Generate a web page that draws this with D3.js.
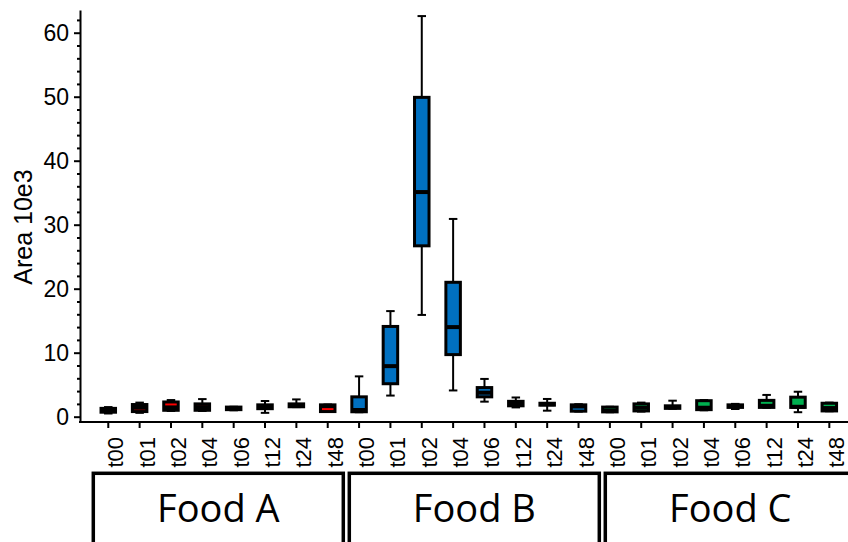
<!DOCTYPE html>
<html>
<head>
<meta charset="utf-8">
<script src="https://cdn.jsdelivr.net/npm/d3@7"></script>
<style>
  html, body { margin: 0; padding: 0; background: #fff; }
  svg { display: block; }
</style>
</head>
<body>
<svg id="chart" width="848" height="542"></svg>
<script>
// ---- data ----
const groups = ["Food A", "Food B", "Food C"];
const timepoints = ["t00", "t01", "t02", "t04", "t06", "t12", "t24", "t48"];
const groupColors = ["#ff0000", "#0070c0", "#00b050"];
const yTicks = [0, 10, 20, 30, 40, 50, 60];
const yLabel = "Area 10e3";
// each box: [whiskerLow, q1, median, q3, whiskerHigh]
const foodA = [
  [0.5, 0.7, 1.0, 1.3, 1.5],
  [0.6, 0.8, 1.4, 1.9, 2.2],
  [0.9, 1.0, 1.45, 2.3, 2.6],
  [0.9, 1.0, 1.5, 2.0, 2.75],
  [1.0, 1.1, 1.3, 1.5, 1.55],
  [0.6, 1.25, 1.5, 1.85, 2.45],
  [1.5, 1.55, 1.75, 2.0, 2.7],
  [0.75, 0.8, 1.65, 1.85, 1.9]
];
const foodB = [
  [0.7, 0.77, 1.05, 3.1, 6.3],
  [3.3, 5.15, 7.9, 14.1, 16.5],
  [15.9, 26.7, 35.1, 49.9, 62.6],
  [4.1, 9.7, 14.0, 21.0, 30.9],
  [2.35, 3.1, 3.75, 4.55, 5.9],
  [1.45, 1.7, 2.05, 2.4, 3.0],
  [0.94, 1.8, 1.95, 2.1, 2.77],
  [0.8, 0.86, 1.6, 1.85, 1.95]
];
const foodC = [
  [0.7, 0.75, 0.95, 1.5, 1.55],
  [0.8, 0.9, 1.4, 2.0, 2.2],
  [1.25, 1.3, 1.5, 1.7, 2.5],
  [1.0, 1.1, 1.4, 2.5, 2.6],
  [1.2, 1.45, 1.65, 1.85, 2.0],
  [1.4, 1.45, 1.7, 2.55, 3.4],
  [0.7, 1.45, 1.55, 3.05, 3.9],
  [0.85, 0.9, 1.35, 2.1, 2.2]
];
const seriesData = [foodA, foodB, foodC];

// ---- build rows ----
const rows = [];
groups.forEach((g, gi) => {
  timepoints.forEach((t, ti) => {
    const v = seriesData[gi][ti];
    rows.push({ key: g + "|" + t, group: g, gi: gi, t: t,
      wl: v[0], q1: v[1], med: v[2], q3: v[3], wh: v[4] });
  });
});

const svg = d3.select("#chart");
const W = 848, H = 542;
const axisX = 80, axisY = 422, topY = 10;
const sans = "'Liberation Sans', Arial, sans-serif";

const x = d3.scaleBand()
  .domain(rows.map(d => d.key))
  .range([92.6, 92.6 + 24 * 31.35])
  .padding(0);

const y = d3.scaleLinear()
  .domain([-0.83, 63.55])
  .range([axisY, topY]);

const boxW = 14.5, capW = 8.5;

// ---- boxes ----
const gBoxes = svg.append("g");
const bx = gBoxes.selectAll("g.box").data(rows).enter().append("g")
  .attr("class", "box")
  .attr("transform", d => `translate(${x(d.key) + x.bandwidth() / 2},0)`);

bx.append("line")
  .attr("x1", 0).attr("x2", 0)
  .attr("y1", d => y(d.wh)).attr("y2", d => y(d.wl))
  .attr("stroke", "#000").attr("stroke-width", 2);
bx.append("line")
  .attr("x1", -capW / 2).attr("x2", capW / 2)
  .attr("y1", d => y(d.wh)).attr("y2", d => y(d.wh))
  .attr("stroke", "#000").attr("stroke-width", 2);
bx.append("line")
  .attr("x1", -capW / 2).attr("x2", capW / 2)
  .attr("y1", d => y(d.wl)).attr("y2", d => y(d.wl))
  .attr("stroke", "#000").attr("stroke-width", 2);
bx.append("rect")
  .attr("x", -boxW / 2).attr("width", boxW)
  .attr("y", d => y(d.q3))
  .attr("height", d => y(d.q1) - y(d.q3))
  .attr("fill", d => groupColors[d.gi])
  .attr("stroke", "#000").attr("stroke-width", 3);
bx.append("line")
  .attr("x1", -boxW / 2).attr("x2", boxW / 2)
  .attr("y1", d => y(d.med)).attr("y2", d => y(d.med))
  .attr("stroke", "#000").attr("stroke-width", 4);

// ---- y axis ----
const yAxis = svg.append("g")
  .attr("transform", `translate(${axisX},0)`)
  .call(d3.axisLeft(y).tickValues(yTicks).tickSize(6).tickSizeOuter(0).tickPadding(5));
yAxis.select(".domain").attr("stroke", "#000").attr("stroke-width", 2);
yAxis.selectAll(".tick line").attr("stroke-width", 2);
yAxis.selectAll(".tick text")
  .style("font-family", sans)
  .style("font-size", "23px").attr("fill", "#000");

const minorVals = d3.range(0, 64, 2).filter(v => v % 10 !== 0);
const yMinor = svg.append("g")
  .attr("transform", `translate(${axisX},0)`)
  .call(d3.axisLeft(y).tickValues(minorVals).tickSize(3).tickFormat(""));
yMinor.select(".domain").remove();
yMinor.selectAll(".tick line").attr("stroke-width", 2);

// y label
svg.append("text")
  .attr("transform", `translate(32,227) rotate(-90)`)
  .attr("text-anchor", "middle")
  .style("font-family", sans)
  .style("font-size", "25px")
  .attr("fill", "#000")
  .text(yLabel);

// ---- x axis ----
const xAxis = svg.append("g")
  .attr("transform", `translate(0,${axisY})`)
  .call(d3.axisBottom(x).tickSize(6).tickSizeOuter(0).tickFormat(k => k.split("|")[1]));
xAxis.select(".domain").remove();
xAxis.selectAll(".tick line").attr("stroke-width", 2);
xAxis.selectAll(".tick text")
  .style("font-family", sans)
  .style("font-size", "22px")
  .attr("fill", "#000")
  .attr("text-anchor", "end")
  .attr("transform", "rotate(-90)")
  .attr("x", -15)
  .attr("y", 15)
  .attr("dy", 0);
svg.append("line")
  .attr("x1", axisX - 1).attr("x2", W)
  .attr("y1", axisY).attr("y2", axisY)
  .attr("stroke", "#000").attr("stroke-width", 2);

// ---- group boxes ----
const gx = d3.scaleBand().domain(groups).range([93.3, 855.3]).paddingInner(6 / 256).paddingOuter(0);
const gg = svg.append("g");
gg.selectAll("rect").data(groups).enter().append("rect")
  .attr("x", d => gx(d)).attr("width", gx.bandwidth())
  .attr("y", 473.3).attr("height", 120)
  .attr("fill", "#fff").attr("stroke", "#000").attr("stroke-width", 3.5);
gg.selectAll("text").data(groups).enter().append("text")
  .attr("x", d => gx(d) + gx.bandwidth() / 2)
  .attr("y", 522)
  .attr("text-anchor", "middle")
  .style("font-family", "'Open Sans', sans-serif")
  .style("font-size", "38px")
  .attr("fill", "#000")
  .text(d => d);
</script>
</body>
</html>
